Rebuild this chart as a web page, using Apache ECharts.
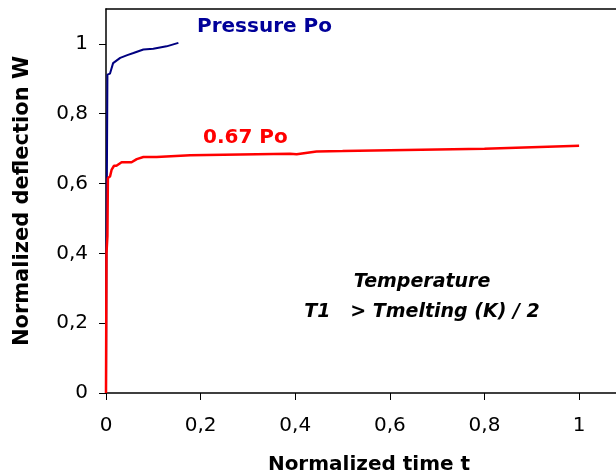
<!DOCTYPE html>
<html>
<head>
<meta charset="utf-8">
<script src="https://cdn.jsdelivr.net/npm/echarts@6/dist/echarts.min.js"></script>
<style>
  html, body { margin: 0; padding: 0; background: #fff; }
  #main { width: 616px; height: 475px; }
</style>
</head>
<body>
<div id="main"></div>
<script>
// pressure Po curve (normalized time t, normalized deflection W)
const timePressure = [0, 0.001, 0.003, 0.0085, 0.015, 0.03, 0.045, 0.058, 0.079, 0.1, 0.128, 0.153];
const defPressure  = [0, 0.40, 0.912, 0.915, 0.945, 0.96, 0.968, 0.974, 0.984, 0.986, 0.993, 1.003];

// 0.67 Po curve
const timeLow = [0, 0.001, 0.003, 0.004, 0.0085, 0.012, 0.017, 0.022, 0.033, 0.054, 0.065, 0.079, 0.107, 0.178, 0.389, 0.403, 0.445, 0.5, 0.8, 1.0];
const defLow  = [0, 0.40, 0.45, 0.616, 0.62, 0.64, 0.651, 0.651, 0.661, 0.661, 0.670, 0.676, 0.676, 0.681, 0.685, 0.684, 0.692, 0.693, 0.700, 0.708];

const xTicks = [0, 0.2, 0.4, 0.6, 0.8, 1];
const yTicks = [0, 0.2, 0.4, 0.6, 0.8, 1];

const font = 'DejaVu Sans';
const comma = v => String(v).replace('.', ',');

let myChart = echarts.init(document.getElementById('main'));
myChart.setOption({
  animation: false,
  backgroundColor: '#fff',
  grid: { left: 106, top: 9, bottom: 82, right: 0, outerBoundsMode: 'none', containLabel: false },
  xAxis: [
    {
      type: 'value', min: 0, max: 1.078,
      name: 'Normalized time t', nameLocation: 'middle', nameGap: 62,
      nameTextStyle: { fontFamily: font, fontWeight: 'bold', fontSize: 20, color: '#000',
        padding: [0, 0, 0, 16] },
      splitLine: { show: false },
      axisLine: { show: true, lineStyle: { color: '#000', width: 1.5 } },
      axisTick: { show: true, customValues: xTicks, length: 7, lineStyle: { color: '#000' } },
      axisLabel: { customValues: xTicks, formatter: comma, margin: 23,
        fontFamily: font, fontSize: 20, color: '#000' }
    },
    {
      // top frame line only
      type: 'value', position: 'top', min: 0, max: 1.078,
      splitLine: { show: false }, axisTick: { show: false }, axisLabel: { show: false },
      axisLine: { show: true, lineStyle: { color: '#000', width: 1.5 } }
    }
  ],
  yAxis: {
    type: 'value', min: 0, max: 1.1,
    name: 'Normalized deflection W', nameLocation: 'middle', nameGap: 73,
    nameTextStyle: { fontFamily: font, fontWeight: 'bold', fontSize: 21, color: '#000' },
    splitLine: { show: false },
    axisLine: { show: true, lineStyle: { color: '#000', width: 1.5 } },
    axisTick: { show: true, customValues: yTicks, length: 7, lineStyle: { color: '#000' } },
    axisLabel: { customValues: yTicks, formatter: comma, margin: 18,
      fontFamily: font, fontSize: 20, color: '#000' }
  },
  series: [
    {
      name: 'Pressure Po', type: 'line', showSymbol: false, clip: false,
      data: timePressure.map((t, i) => [t, defPressure[i]]),
      lineStyle: { color: '#000080', width: 2 }
    },
    {
      name: '0.67 Po', type: 'line', showSymbol: false, clip: false,
      data: timeLow.map((t, i) => [t, defLow[i]]),
      lineStyle: { color: '#ff0000', width: 2.5 }
    }
  ],
  graphic: [
    { type: 'text', x: 197, y: 27, style: { text: 'Pressure Po', fill: '#000099',
      font: 'bold 20px "DejaVu Sans"', textVerticalAlign: 'middle' } },
    { type: 'text', x: 203, y: 138, style: { text: '0.67 Po', fill: '#ff0000',
      font: 'bold 20px "DejaVu Sans"', textVerticalAlign: 'middle' } },
    { type: 'text', x: 422, y: 282, style: { text: 'Temperature', fill: '#000',
      font: 'italic bold 19px "DejaVu Sans"', textAlign: 'center', textVerticalAlign: 'middle' } },
    { type: 'text', x: 422, y: 312, style: { text: 'T1   > Tmelting (K) / 2', fill: '#000',
      font: 'italic bold 19px "DejaVu Sans"', textAlign: 'center', textVerticalAlign: 'middle' } }
  ]
});
</script>
</body>
</html>
